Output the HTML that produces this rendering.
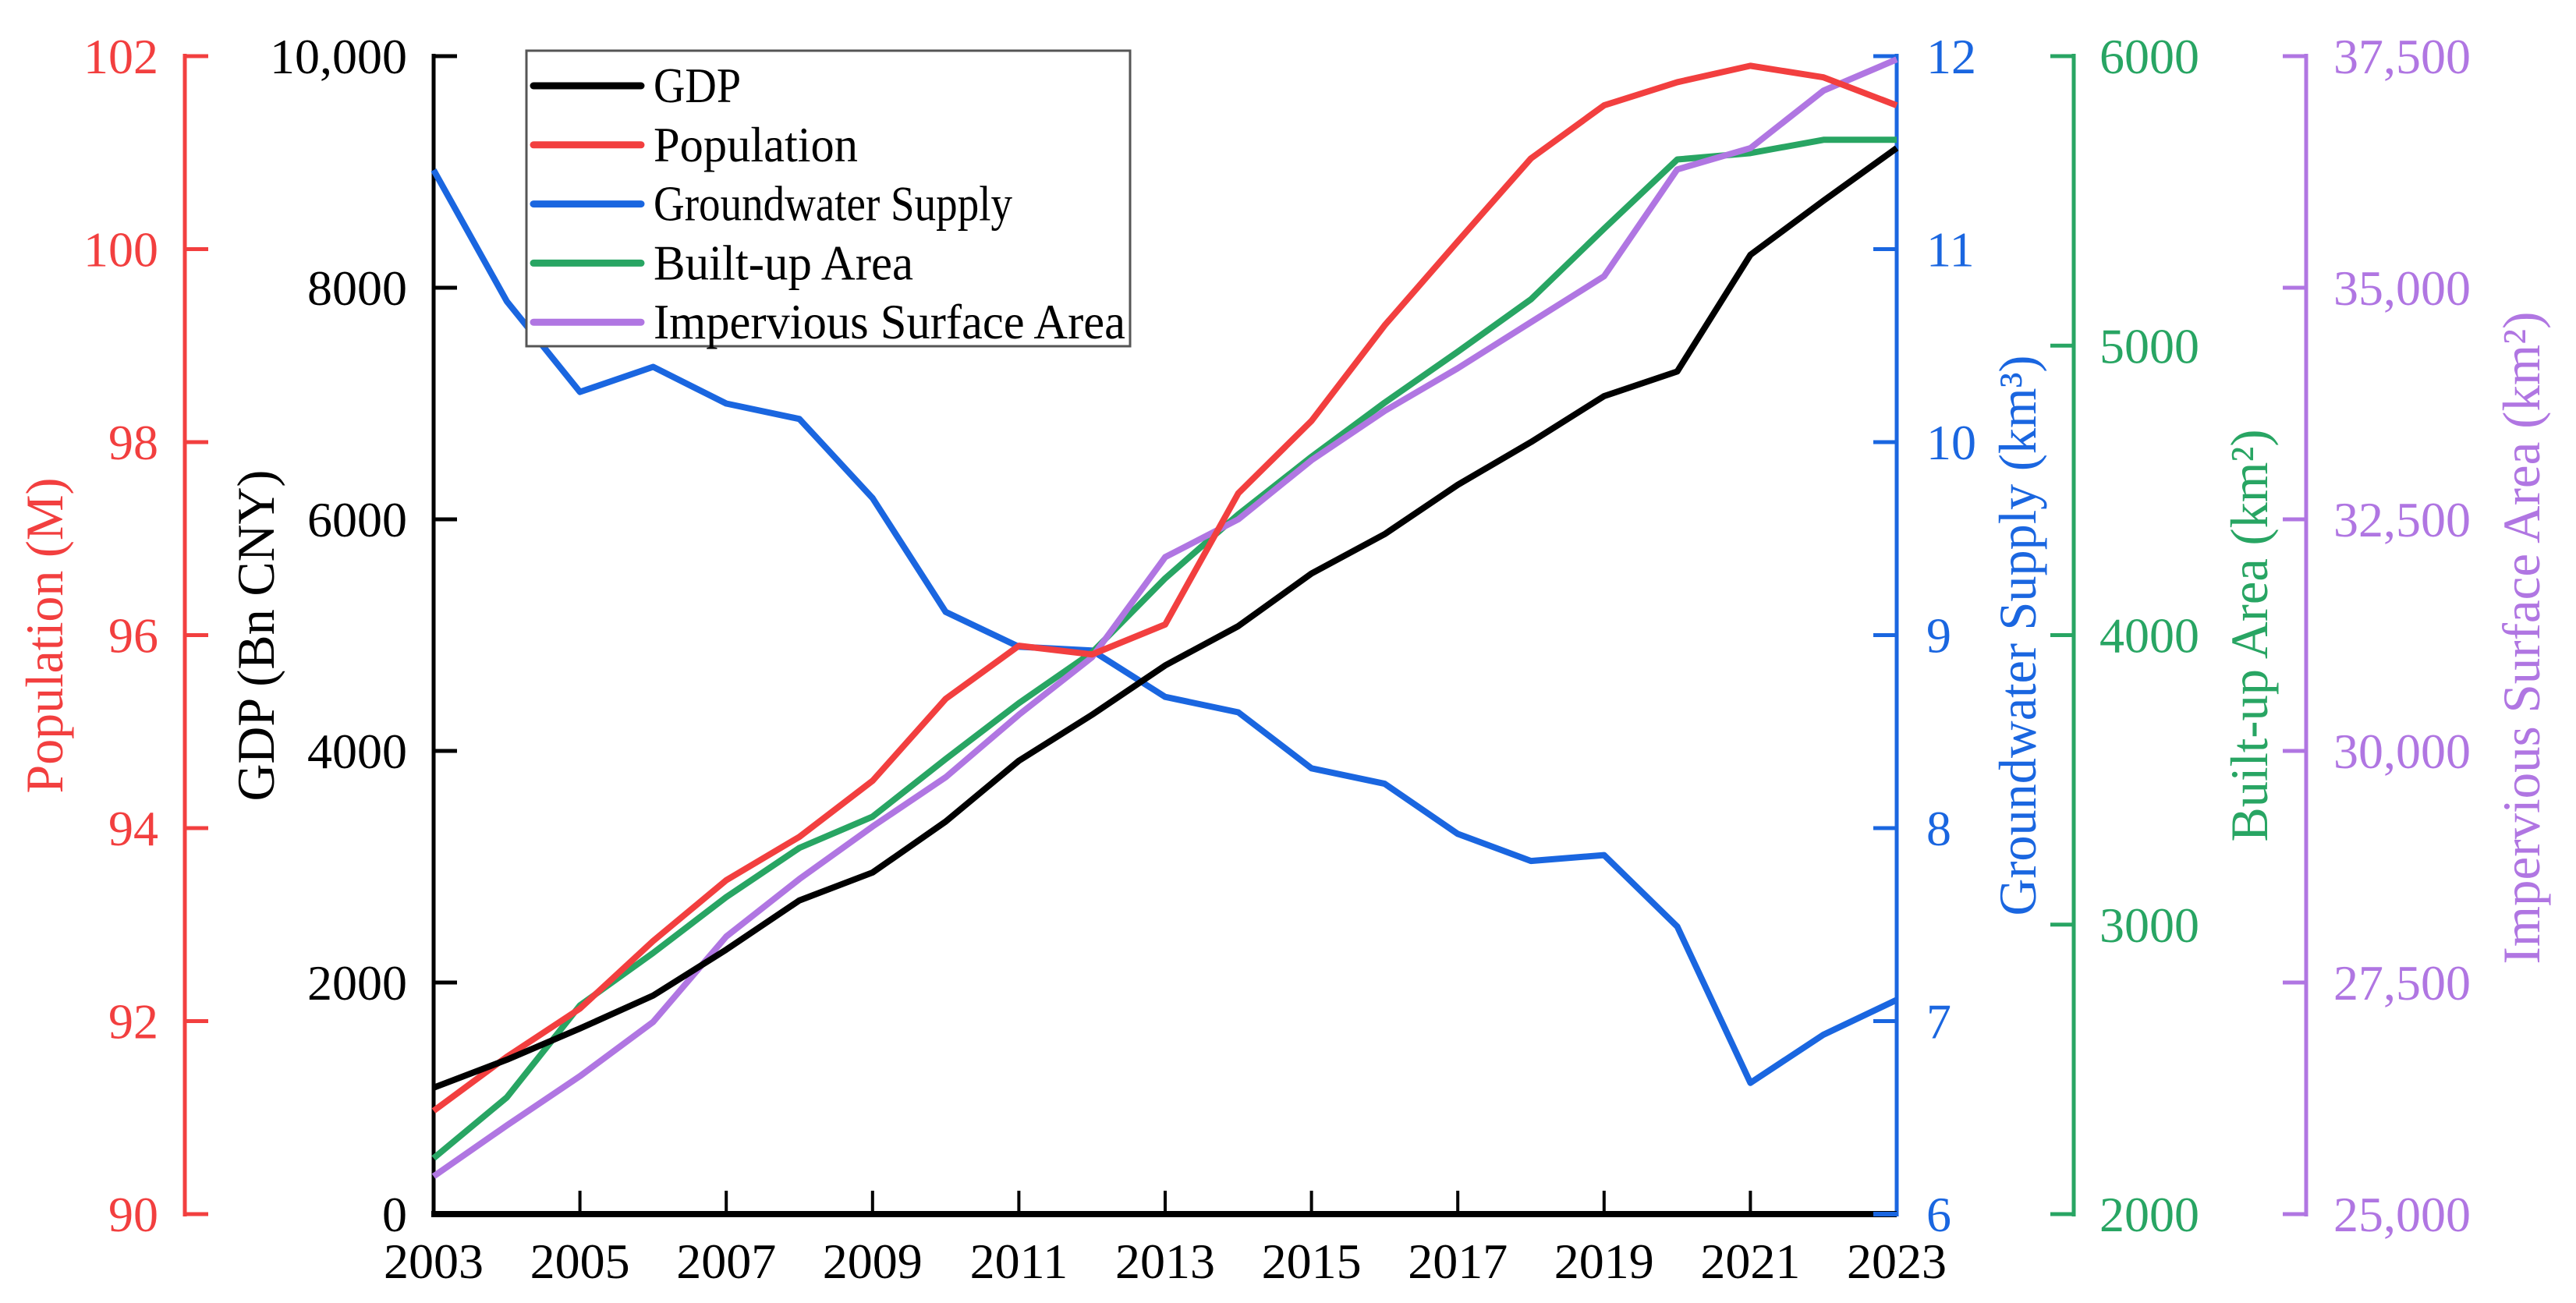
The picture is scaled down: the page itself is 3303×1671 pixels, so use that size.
<!DOCTYPE html>
<html><head><meta charset="utf-8"><style>
html,body{margin:0;padding:0;background:#fff;}
svg{display:block;font-family:"Liberation Serif",serif;}
</style></head><body>
<svg id="chart" width="3303" height="1671" viewBox="0 0 3303 1671" xmlns="http://www.w3.org/2000/svg">
<g id="axes"></g><g id="series"></g><g id="legend"></g>
</svg>
<script>
const years = [2003,2004,2005,2006,2007,2008,2009,2010,2011,2012,2013,2014,2015,2016,2017,2018,2019,2020,2021,2022,2023];
const gdp = [1092,1333,1603,1887,2284,2709,2950,3390,3915,4312,4738,5078,5532,5872,6298,6667,7064,7277,8284,8752,9206];
const population = [91.07,91.63,92.13,92.83,93.46,93.91,94.49,95.34,95.89,95.80,96.11,97.47,98.22,99.21,100.08,100.94,101.49,101.73,101.90,101.78,101.49];
const groundwater = [11.41,10.73,10.26,10.39,10.20,10.12,9.71,9.12,8.94,8.92,8.68,8.60,8.31,8.23,7.97,7.83,7.86,7.49,6.68,6.93,7.11];
const builtUp = [2193,2403,2721,2902,3095,3265,3373,3572,3765,3940,4196,4417,4616,4803,4979,5160,5404,5643,5665,5711,5711];
const impervious = [25408,25957,26489,27074,27996,28617,29184,29716,30390,31011,32092,32500,33138,33670,34131,34628,35124,36277,36507,37128,37465];
const xTicks = [2003,2005,2007,2009,2011,2013,2015,2017,2019,2021,2023];
const gdpTicks = [0,2000,4000,6000,8000,10000];
const gdpTickLabels = ["0","2000","4000","6000","8000","10,000"];
const popTicks = [90,92,94,96,98,100,102];
const gwTicks = [6,7,8,9,10,11,12];
const buTicks = [2000,3000,4000,5000,6000];
const isTicks = [25000,27500,30000,32500,35000,37500];
const isTickLabels = ["25,000","27,500","30,000","32,500","35,000","37,500"];

const NS="http://www.w3.org/2000/svg";
const X0=556, X1=2432, YT=72, YB=1557;
const C={k:"#000",r:"#f23f3f",b:"#1a66e0",g:"#28a563",p:"#b076e2"};
function xs(v){return X0+(v-2003)/(2023-2003)*(X1-X0);}
function ys(min,max){return v=>YB-(v-min)/(max-min)*(YB-YT);}
const yG=ys(0,10000), yP=ys(90,102), yW=ys(6,12), yB=ys(2000,6000), yI=ys(25000,37500);
function el(tag,attrs,parent,text){const e=document.createElementNS(NS,tag);for(const k in attrs)e.setAttribute(k,attrs[k]);if(text!==undefined)e.textContent=text;parent.appendChild(e);return e;}
const axes=document.getElementById('axes'), ser=document.getElementById('series'), leg=document.getElementById('legend');

function yAxis(name,x,color,ticks,labels,scale,dir,labelAnchor,labelX,title,titleX,titleY,titleLen){
  const g=el('g',{},axes);
  
  
  el('line',{x1:x,y1:YT-3,x2:x,y2:YB+3,stroke:color,'stroke-width':5},g);
  ticks.forEach((t,i)=>{
    const y=scale(t);
    el('line',{x1:x,y1:y,x2:x+dir*30,y2:y,stroke:color,'stroke-width':5},g);
    const tx=el('text',{x:labelX,y:y+22,fill:color,'font-size':64,'text-anchor':labelAnchor},g,labels?labels[i]:String(t));
    
    
  });
  const tt=el('text',{x:0,y:0,fill:color,'font-size':68,'text-anchor':'middle',textLength:titleLen,lengthAdjust:'spacingAndGlyphs',transform:`translate(${titleX},${titleY}) rotate(-90)`},g,title);
  
  
}
yAxis('population-axis',237,C.r,popTicks,null,yP,1,'end',203,'Population (M)',80,815,405);
yAxis('gdp-axis',X0,C.k,gdpTicks,gdpTickLabels,yG,1,'end',522,'GDP (Bn CNY)',351,815,425);
yAxis('groundwater-axis',X1,C.b,gwTicks,null,yW,-1,'start',2470,'Groundwater Supply (km³)',2610,815,719);
yAxis('builtup-axis',2659,C.g,buTicks,null,yB,-1,'start',2692,'Built-up Area (km²)',2907,815,529);
yAxis('impervious-axis',2957,C.p,isTicks,isTickLabels,yI,-1,'start',2992,'Impervious Surface Area (km²)',3256,818,837);

// x axis
const xg=el('g',{},axes);


el('line',{x1:X0-3,y1:YB,x2:X1,y2:YB,stroke:'#000','stroke-width':8},xg);
xTicks.forEach(t=>{
  const x=xs(t);
  if(t!==2003&&t!==2023) el('line',{x1:x,y1:YB,x2:x,y2:YB-30,stroke:'#000','stroke-width':4},xg);
  const tx=el('text',{x:x,y:1639,'font-size':64,'text-anchor':'middle',fill:'#000'},xg,String(t));
  
  
});
el('line',{x1:X1-30,y1:YB,x2:X1+2,y2:YB,stroke:C.b,'stroke-width':6},xg);

function series(name,data,scale,color){
  const pts=data.map((v,i)=>xs(years[i])+','+scale(v)).join(' ');
  const p=el('polyline',{points:pts,fill:'none',stroke:color,'stroke-width':8,'stroke-linejoin':'round'},ser);
  
  
}
series('groundwater-line',groundwater,yW,C.b);
series('builtup-line',builtUp,yB,C.g);
series('impervious-line',impervious,yI,C.p);
series('population-line',population,yP,C.r);
series('gdp-line',gdp,yG,C.k);

// legend
const lb=el('rect',{x:675,y:65,width:774,height:379,fill:'#fff',stroke:'#555','stroke-width':3},leg);


const legendNames=['GDP','Population','Groundwater Supply','Built-up Area','Impervious Surface Area'];
const legendColors=[C.k,C.r,C.b,C.g,C.p];
const legendLens=[112,262,460,333,605];
legendNames.forEach((n,i)=>{
  const y=110+i*75.8;
  const g=el('g',{},leg);
  
  
  el('line',{x1:684,y1:y,x2:822,y2:y,stroke:legendColors[i],'stroke-width':9,'stroke-linecap':'round'},g);
  el('text',{x:838,y:y+21,'font-size':64,fill:'#000',textLength:legendLens[i],lengthAdjust:'spacingAndGlyphs'},g,n);
});
</script>
</body></html>
